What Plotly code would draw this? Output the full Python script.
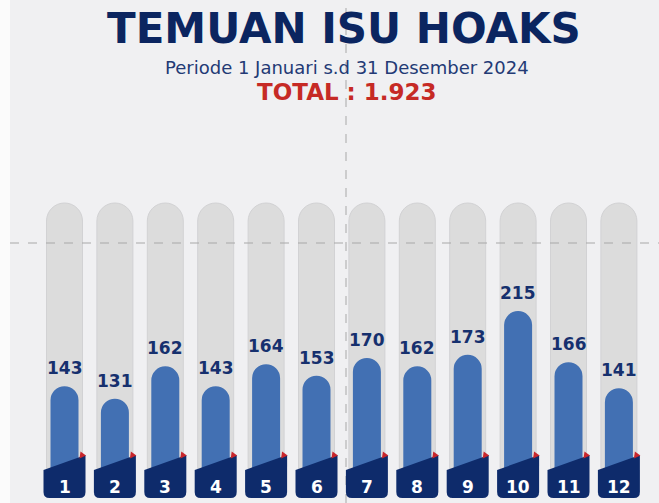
import plotly.graph_objects as go

# ---- data ----
months = list(range(1, 13))
month_labels = ["1", "2", "3", "4", "5", "6", "7", "8", "9", "10", "11", "12"]
values = [143, 131, 162, 143, 164, 153, 170, 162, 173, 215, 166, 141]
title_text = "TEMUAN ISU HOAKS"
subtitle_text = "Periode 1 Januari s.d 31 Desember 2024"
total_text = "TOTAL : 1.923"

# ---- geometry (pixel-based scale helpers) ----
W, H = 659, 503
C1, PITCH = 64.5, 50.4          # px centre of first bar, px between bars
Y0, K = 535.3, 1.043            # px of value 0, px per unit value

def vx(px):  # pixel x -> data x
    return 1 + (px - C1) / PITCH

def vy(py):  # pixel y -> data value
    return (Y0 - py) / K

x_range = [vx(0), vx(W)]
y_range = [vy(H), vy(0)]
base_v = vy(485)          # bars start hidden behind the badges
track_top = vy(203)

NAVY = "#0e2b6b"
BLUE = "#4270b3"
GREY = "#dcdcdc"
LABEL = "#16306e"
BOLD = "DejaVu Sans"

fig = go.Figure()

# background tracks
fig.add_trace(go.Bar(
    x=months, y=[track_top - base_v] * len(months), base=base_v,
    width=36 / PITCH, marker=dict(color=GREY, cornerradius=18,
                                  line=dict(color="#d2d2d4", width=1)),
    hoverinfo="skip", showlegend=False))

# value bars
fig.add_trace(go.Bar(
    x=months, y=[v - base_v for v in values], base=base_v,
    width=28 / PITCH, marker=dict(color=BLUE, cornerradius=14, line=dict(width=0)),
    hoverinfo="skip", showlegend=False))

shapes = []
# left white strip
shapes.append(dict(type="rect", xref="paper", yref="paper", x0=0, x1=10 / W, y0=0, y1=1,
                   fillcolor="#fbfbfb", line=dict(width=0), layer="below"))
# guide lines
shapes.append(dict(type="line", xref="paper", yref="paper", x0=346 / W, x1=346 / W, y0=0, y1=1,
                   line=dict(color="#a8a8a8", width=1, dash="dash"), layer="above"))
shapes.append(dict(type="line", xref="paper", yref="paper", x0=10 / W, x1=1, y0=1 - 243 / H, y1=1 - 243 / H,
                   line=dict(color="#a8a8a8", width=1, dash="dash"), layer="above"))

# badges
hw = 21 / PITCH
rx, ry = 6 / PITCH, 6 / K
y_tl, y_tr, y_b = vy(470), vy(455), vy(498)
for m in months:
    xl, xr = m - hw, m + hw
    path = (f"M {xl},{y_tl} L {xr},{y_tr} L {xr},{y_b + ry} "
            f"Q {xr},{y_b} {xr - rx},{y_b} L {xl + rx},{y_b} "
            f"Q {xl},{y_b} {xl},{y_b + ry} Z")
    shapes.append(dict(type="path", xref="x", yref="y", path=path,
                       fillcolor=NAVY, line=dict(width=0), layer="above"))
    tri = (f"M {m + 16 / PITCH},{vy(451.5)} L {m + 21.5 / PITCH},{vy(455.5)} "
           f"L {m + 15 / PITCH},{vy(458.5)} Z")
    shapes.append(dict(type="path", xref="x", yref="y", path=tri,
                       fillcolor="#c8262c", line=dict(width=0), layer="above"))

annotations = []
for m, lab, v in zip(months, month_labels, values):
    annotations.append(dict(x=m, y=vy(487), text=lab, showarrow=False,
                            font=dict(family=BOLD, size=17, color="white", weight="bold"),
                            xanchor="center", yanchor="middle"))
    annotations.append(dict(x=m, y=v, text=str(v), showarrow=False,
                            font=dict(family=BOLD, size=17, color=LABEL, weight="bold"),
                            xanchor="center", yanchor="bottom", yshift=6))

annotations.append(dict(xref="paper", yref="paper", x=344 / W, y=1 - 28 / H, text=title_text,
                        showarrow=False, xanchor="center", yanchor="middle",
                        font=dict(family=BOLD, size=42, color="#0b2560", weight="bold")))
annotations.append(dict(xref="paper", yref="paper", x=346.5 / W, y=1 - 67 / H, text=subtitle_text,
                        showarrow=False, xanchor="center", yanchor="middle",
                        font=dict(family="DejaVu Sans", size=18, color="#233a75")))
annotations.append(dict(xref="paper", yref="paper", x=347 / W, y=1 - 92 / H, text=total_text,
                        showarrow=False, xanchor="center", yanchor="middle",
                        font=dict(family=BOLD, size=23, color="#c62a25", weight="bold")))

fig.update_layout(
    width=W, height=H,
    margin=dict(l=0, r=0, t=0, b=0),
    paper_bgcolor="#f0f0f2", plot_bgcolor="rgba(0,0,0,0)",
    barmode="overlay", showlegend=False,
    xaxis=dict(range=x_range, visible=False, fixedrange=True),
    yaxis=dict(range=y_range, visible=False, fixedrange=True),
    shapes=shapes, annotations=annotations,
)

fig.write_html("out.html", config={"displayModeBar": False},
               post_script="document.body.style.margin='0';document.body.style.overflow='hidden';")
